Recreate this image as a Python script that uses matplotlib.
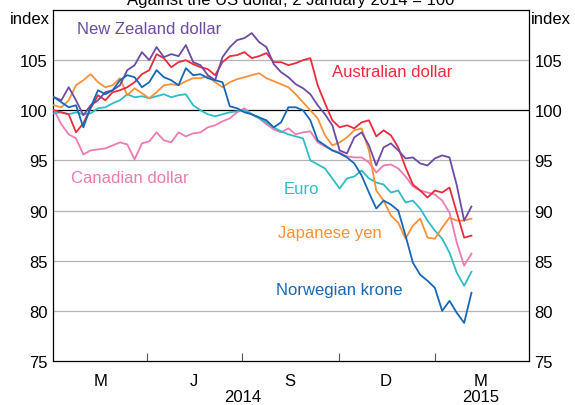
import matplotlib
matplotlib.use("Agg")
import matplotlib.pyplot as plt
import matplotlib.dates as mdates
import pandas as pd
from datetime import date

plt.rcParams["font.family"] = ["Liberation Sans", "DejaVu Sans"]

# weekly observations, 2 January 2014 = 100
dates = pd.date_range("2014-01-02", periods=58, freq="7D")

aud = [100.0, 99.8, 99.6, 97.8, 98.7, 100.2, 101.5, 101.0, 101.8, 102.0,
       102.3, 102.8, 103.6, 104.0, 105.6, 105.2, 104.3, 104.8, 105.0, 104.6,
       104.3, 104.1, 103.5, 104.8, 105.4, 105.5, 105.8, 105.2, 105.4, 105.7,
       104.8, 104.8, 104.5, 104.7, 105.0, 105.2, 102.5, 100.7, 99.0, 98.3,
       98.5, 98.2, 98.8, 99.0, 97.4, 98.0, 97.5, 96.3, 94.3, 92.6,
       92.0, 91.3, 92.0, 91.8, 92.3, 89.8, 87.3, 87.5]
nzd = [101.3, 101.0, 102.3, 101.0, 99.5, 100.5, 101.0, 101.8, 102.0, 102.5,
       104.0, 104.5, 105.8, 105.0, 106.3, 105.3, 105.6, 105.4, 106.5, 104.8,
       104.5, 103.5, 103.0, 105.3, 106.3, 107.0, 107.2, 107.7, 106.8, 106.3,
       104.6, 103.8, 103.3, 102.6, 102.2, 101.6, 100.5, 99.6, 98.5, 96.0,
       95.7, 97.3, 97.8, 96.5, 94.5, 96.3, 96.7, 96.0, 95.2, 95.3,
       94.7, 94.5, 95.2, 95.5, 95.3, 92.5, 89.0, 90.4]
jpy = [100.5, 100.3, 101.0, 102.5, 103.0, 103.6, 102.8, 102.3, 102.5, 103.2,
       101.5, 102.2, 101.7, 101.2, 101.8, 102.5, 102.6, 102.5, 102.9, 103.2,
       103.2, 103.4, 102.8, 102.3, 102.8, 103.1, 103.3, 103.5, 103.7, 103.2,
       102.9, 102.6, 102.3, 101.6, 100.8, 100.0, 99.2, 97.5, 96.5, 96.8,
       97.3, 98.0, 98.2, 96.0, 92.0, 91.0, 89.5, 88.8, 87.2, 88.5,
       89.2, 87.3, 87.2, 88.3, 89.3, 89.0, 89.0, 89.2]
nok = [101.3, 100.8, 100.3, 100.5, 98.3, 100.3, 102.0, 101.6, 102.0, 103.0,
       103.5, 103.3, 102.3, 102.8, 104.0, 103.3, 103.0, 102.5, 104.2, 103.5,
       103.6, 103.2, 103.0, 102.8, 100.4, 100.2, 99.8, 99.6, 99.3, 99.0,
       98.3, 98.8, 100.3, 100.3, 100.0, 99.0, 97.0, 96.5, 96.0, 95.7,
       95.3, 94.7, 93.5, 91.8, 90.2, 91.0, 90.6, 90.0, 87.5, 84.8,
       83.6, 83.0, 82.3, 80.0, 81.0, 79.8, 78.8, 81.8]
eur = [99.7, 99.8, 99.6, 99.8, 99.6, 99.7, 100.2, 100.3, 100.7, 101.0,
       101.6, 101.3, 101.4, 101.2, 101.4, 101.6, 101.3, 101.5, 101.6, 100.5,
       100.0, 99.6, 99.4, 99.6, 99.8, 99.9, 100.0, 99.6, 99.2, 98.8,
       98.3, 97.9, 97.6, 97.4, 97.2, 95.0, 94.6, 94.2, 93.2, 92.2,
       93.2, 93.4, 94.0, 93.2, 92.8, 92.6, 91.8, 92.0, 90.8, 91.0,
       90.2, 89.0, 88.0, 87.2, 85.8, 83.8, 82.5, 83.9]
cad = [100.0, 98.6, 97.6, 97.2, 95.6, 96.0, 96.1, 96.2, 96.5, 96.8,
       96.6, 95.1, 96.7, 96.9, 97.8, 97.0, 96.8, 97.8, 97.4, 97.7,
       97.8, 98.3, 98.5, 98.9, 99.2, 99.8, 100.2, 99.6, 99.2, 98.6,
       98.1, 97.8, 98.2, 97.6, 97.8, 97.9, 96.8, 96.4, 96.0, 95.8,
       95.4, 95.3, 95.3, 94.8, 93.8, 94.5, 94.6, 94.2, 93.4, 92.4,
       92.0, 91.8, 91.6, 91.0, 89.8, 86.8, 84.5, 85.7]

series = [
    ("Canadian dollar", cad, "#f07ab2"),
    ("Euro", eur, "#30bcc6"),
    ("Japanese yen", jpy, "#f7923a"),
    ("Australian dollar", aud, "#ee2a3c"),
    ("New Zealand dollar", nzd, "#6c4ba6"),
    ("Norwegian krone", nok, "#1668b5"),
]

# label positions (date, value)
labels = {
    "New Zealand dollar": (date(2014, 1, 24), 108.2),
    "Australian dollar": (date(2014, 9, 25), 103.9),
    "Canadian dollar": (date(2014, 1, 18), 93.3),
    "Euro": (date(2014, 8, 9), 92.2),
    "Japanese yen": (date(2014, 8, 4), 87.8),
    "Norwegian krone": (date(2014, 8, 2), 82.1),
}

quarter_starts = [date(2014, 4, 1), date(2014, 7, 1), date(2014, 10, 1), date(2015, 1, 1)]
quarter_mids = [date(2014, 2, 15), date(2014, 5, 16), date(2014, 8, 15), date(2014, 11, 15), date(2015, 2, 14)]
month_labels = ["M", "J", "S", "D", "M"]

fig = plt.figure(figsize=(5.75, 4.06), dpi=100)
ax = fig.add_axes([53 / 575, 1 - 362 / 406, 476 / 575, 351 / 406])

for y in [80, 85, 90, 95, 105]:
    ax.axhline(y, color="#b3b3b3", lw=0.9, zorder=1)
ax.axhline(100, color="black", lw=0.9, zorder=1)

x = mdates.date2num(dates.to_pydatetime())
for name, vals, col in series:
    ax.plot(x, vals, color=col, lw=1.3, zorder=3)
    d, v = labels[name]
    ax.text(mdates.date2num(d), v, name, color=col, fontsize=12, va="center", ha="left")

ax.set_xlim(mdates.date2num(date(2014, 1, 1)), mdates.date2num(date(2015, 4, 1)))
ax.set_ylim(75, 110)

ax.set_yticks([75, 80, 85, 90, 95, 100, 105])
ax.tick_params(axis="y", length=0, labelsize=12, labelleft=True, labelright=True, pad=4)

ax.set_xticks(mdates.date2num(quarter_starts))
ax.set_xticklabels([])
ax.set_xticks(mdates.date2num(quarter_mids), minor=True)
ax.set_xticklabels(month_labels, minor=True)
ax.tick_params(axis="x", which="major", direction="in", length=6, width=0.8, color="#555555")
ax.tick_params(axis="x", which="minor", length=0, labelsize=12, pad=9)

for s in ax.spines.values():
    s.set_linewidth(0.9)
    s.set_color("black")

fig.text(50 / 575, 1 - 20 / 406, "index", fontsize=12, ha="right", va="center")
fig.text(531 / 575, 1 - 20 / 406, "index", fontsize=12, ha="left", va="center")
fig.text(291 / 575, 1 - 5.5 / 406, "Against the US dollar, 2 January 2014 = 100",
         fontsize=12, ha="center", va="baseline")

trans = ax.get_xaxis_transform()
ax.text(mdates.date2num(date(2014, 7, 1)), -0.1, "2014", fontsize=12, ha="center",
        va="center", transform=trans)
ax.text(mdates.date2num(date(2015, 2, 14)), -0.1, "2015", fontsize=12, ha="center",
        va="center", transform=trans)

fig.savefig("out.png", dpi=100)
